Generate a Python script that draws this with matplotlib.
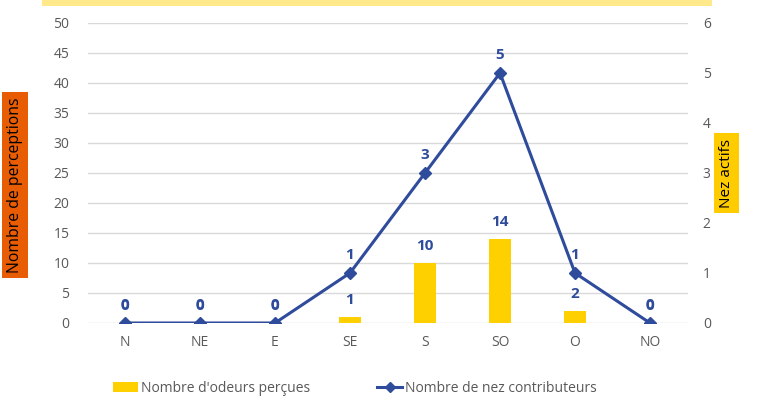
import matplotlib
matplotlib.use("Agg")
import matplotlib.pyplot as plt
from matplotlib.lines import Line2D
from matplotlib.patches import Patch, Rectangle

plt.rcParams['font.family'] = ['Open Sans', 'DejaVu Sans']

directions = ["N", "NE", "E", "SE", "S", "SO", "O", "NO"]
odeurs = [0, 0, 0, 1, 10, 14, 2, 0]
nez = [0, 0, 0, 1, 3, 5, 1, 0]

BAR = '#FFD000'
LINE = '#2F4B9C'
GREY = '#595959'

fig = plt.figure(figsize=(7.62, 4.16), dpi=100)
ax = fig.add_axes([87.5 / 762, 93 / 416, 600 / 762, 300 / 416])
ax2 = ax.twinx()

x = range(len(directions))
ax.bar(x, odeurs, width=0.3, color=BAR, zorder=2)
ax2.plot(x, nez, color=LINE, linewidth=2.2, marker='D', markersize=6, zorder=3)

ax.set_ylim(0, 50)
ax.set_yticks(range(0, 51, 5))
ax2.set_ylim(0, 6)
ax2.set_yticks(range(0, 7))
ax.set_xlim(-0.5, len(directions) - 0.5)
ax.set_xticks(list(x))
ax.set_xticklabels(directions)

ax.grid(axis='y', color='#D9D9D9', linewidth=1, zorder=0)
ax.set_axisbelow(True)
for a in (ax, ax2):
    for s in a.spines.values():
        s.set_visible(False)
    a.tick_params(length=0, colors=GREY, labelsize=10)
ax.tick_params(axis='y', pad=13)
ax.tick_params(axis='x', pad=9)
ax2.tick_params(axis='y', pad=11)

for i, v in enumerate(odeurs):
    ax.annotate(str(v), (i, v), xytext=(0, 7), textcoords='offset points',
                ha='center', va='bottom', color=LINE, fontsize=11, fontweight='bold')
for i, v in enumerate(nez):
    ax2.annotate(str(v), (i, v), xytext=(0, 8), textcoords='offset points',
                 ha='center', va='bottom', color=LINE, fontsize=11, fontweight='bold')

# axis title boxes
fig.text(15 / 762, 231 / 416, "Nombre de perceptions", rotation=90, ha='center', va='center',
         fontsize=11.3, color='black',
         bbox=dict(boxstyle='square,pad=0.35', facecolor='#E85D04', edgecolor='none'))
fig.text(726.5 / 762, 243 / 416, "Nez actifs", rotation=90, ha='center', va='center',
         fontsize=11, color='black',
         bbox=dict(boxstyle='square,pad=0.35', facecolor='#FFCC00', edgecolor='none'))

# cut-off title band at the top
fig.patches.append(Rectangle((42 / 762, 410 / 416), 670 / 762, 6 / 416,
                             transform=fig.transFigure, facecolor='#FFE98A',
                             edgecolor='none'))

handles = [Patch(facecolor=BAR, edgecolor='none'),
           Line2D([], [], color=LINE, linewidth=2.2, marker='D', markersize=5)]
fig.legend(handles, ["Nombre d'odeurs perçues", "Nombre de nez contributeurs"],
           loc='center', bbox_to_anchor=(355 / 762, 28 / 416), ncol=2, frameon=False,
           fontsize=10, labelcolor=GREY, columnspacing=4.8, handlelength=1.8,
           handletextpad=0.25, borderpad=0, borderaxespad=0)

fig.savefig("out.png", dpi=100)
